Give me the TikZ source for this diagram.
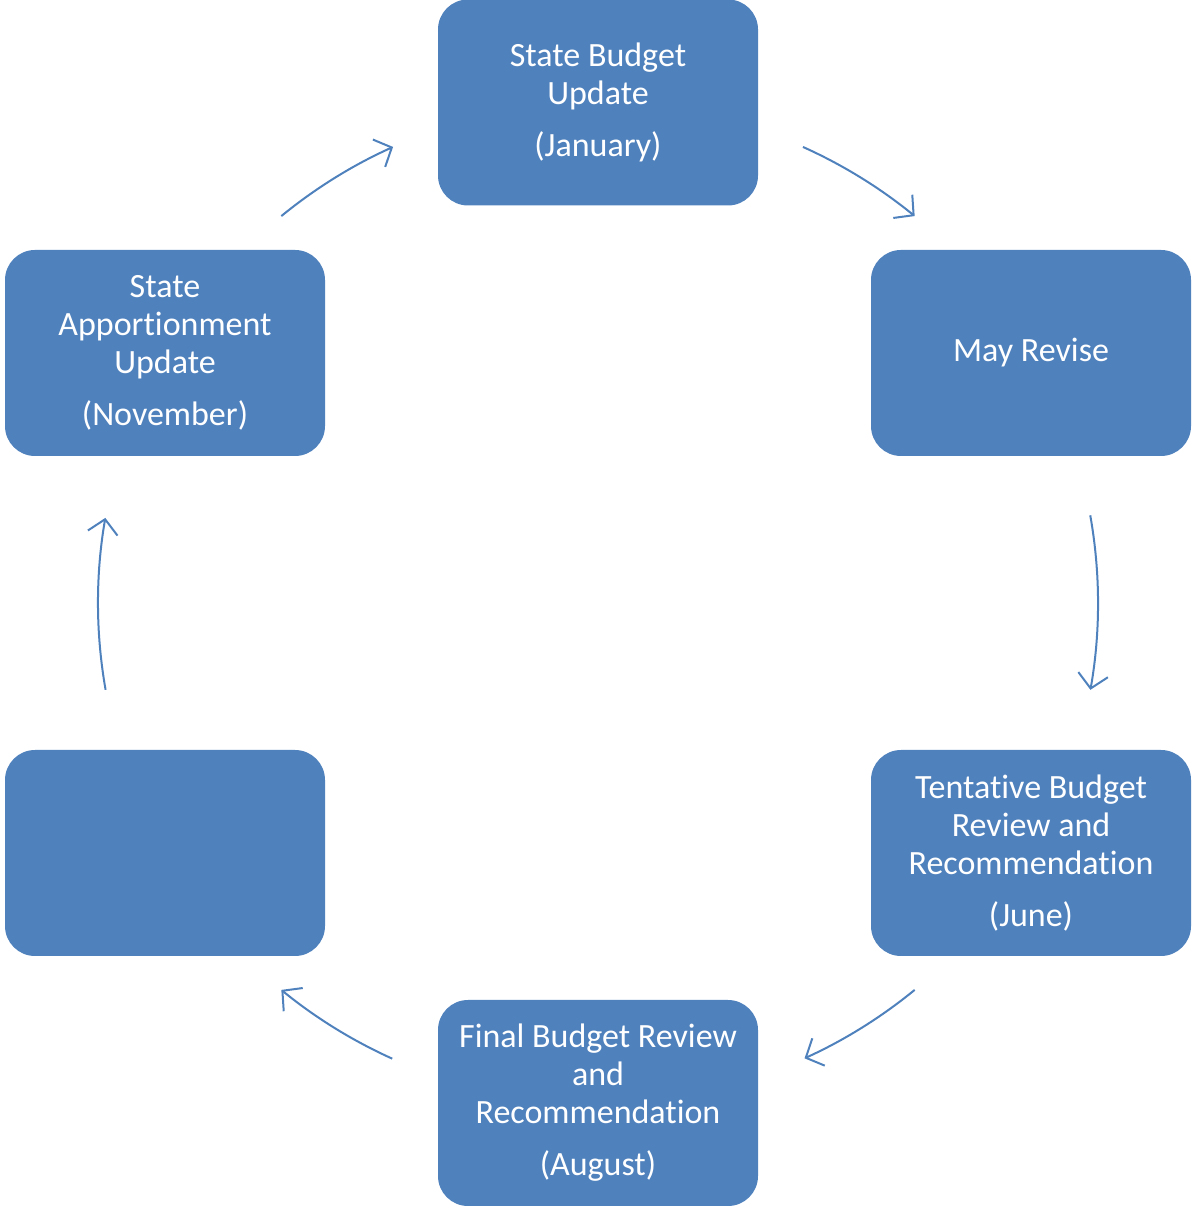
\documentclass[tikz,border=0pt]{standalone}
\usepackage{fontspec}
\setmainfont{Carlito}[Ligatures={NoCommon},RawFeature={-liga;-clig;-calt}]
\usetikzlibrary{arrows.meta,calc}
\definecolor{boxblue}{HTML}{4F81BD}
\tikzset{
  stage/.style={draw=none, fill=boxblue, rounded corners=30pt, minimum width=320pt, minimum height=206pt, inner sep=0pt,
    text=white, align=center, font=\fontsize{34}{38}\selectfont},
  conn/.style={draw=boxblue, line width=2pt, -{Straight Barb[length=14pt,width=30pt,line width=2pt]}}
}
\begin{document}
\begin{tikzpicture}[x=1pt,y=1pt]
\useasboundingbox (0,0) rectangle (1193,1209);
\node[stage] (jan) at (598,1106.5) {State Budget\\Update\\[14pt](January)};
\node[stage] (may) at (1031,856) {May Revise};
\node[stage] (jun) at (1031,356) {Tentative Budget\\Review and\\Recommendation\\[14pt](June)};
\node[stage] (aug) at (598,106) {Final Budget Review\\and\\Recommendation\\[14pt](August)};
\node[stage] (blank) at (165,356) {};
\node[stage] (nov) at (165,856) {State\\Apportionment\\Update\\[14pt](November)};
\coordinate (O) at (598,606);
\coordinate (s1) at ($(O)+(129.3:500)$);
\coordinate (s2) at ($(O)+(65.8:500)$);
\coordinate (s3) at ($(O)+(10.1:500)$);
\coordinate (s4) at ($(O)+(-50.7:500)$);
\coordinate (s5) at ($(O)+(-114.3:500)$);
\coordinate (s6) at ($(O)+(190:500)$);
\draw[conn] (s1) arc[start angle=129.3, end angle=114.2, radius=500];
\draw[conn] (s2) arc[start angle=65.8, end angle=50.7, radius=500];
\draw[conn] (s3) arc[start angle=10.1, end angle=-10, radius=500];
\draw[conn] (s4) arc[start angle=-50.7, end angle=-65.6, radius=500];
\draw[conn] (s5) arc[start angle=-114.3, end angle=-129.3, radius=500];
\draw[conn] (s6) arc[start angle=190, end angle=170.2, radius=500];
\end{tikzpicture}
\end{document}
